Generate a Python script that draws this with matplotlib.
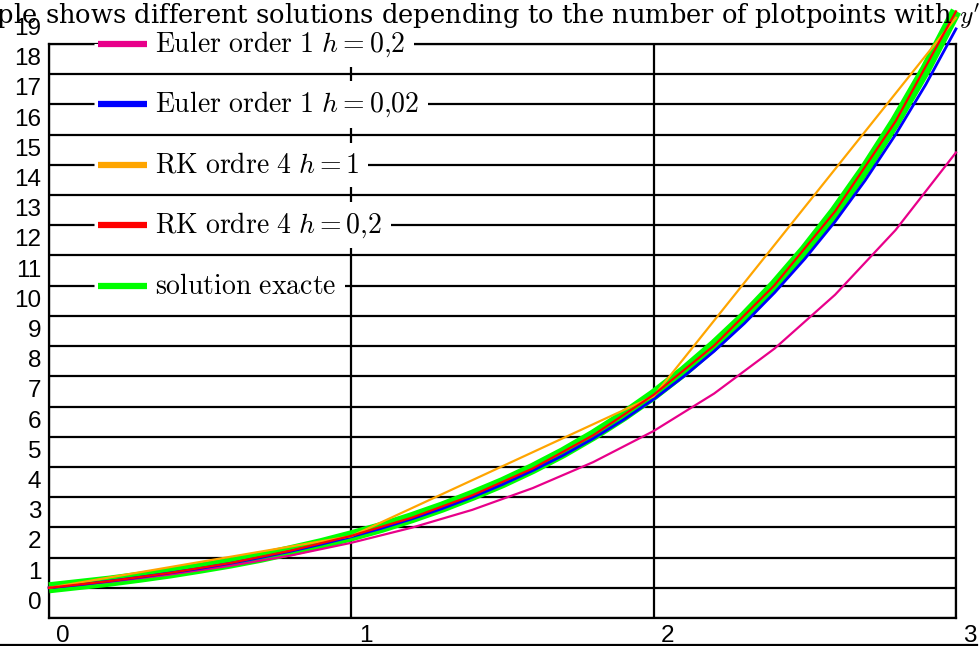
import matplotlib
matplotlib.use("Agg")
import matplotlib.pyplot as plt
from matplotlib.lines import Line2D

plt.rcParams["mathtext.fontset"] = "cm"

# exact solution y = e^x, sampled every 0.1
x_exact = [i / 10 for i in range(31)]
y_exact = [1.00, 1.11, 1.22, 1.35, 1.49, 1.65, 1.82, 2.01, 2.23, 2.46, 2.72,
           3.00, 3.32, 3.67, 4.06, 4.48, 4.95, 5.47, 6.05, 6.69, 7.39,
           8.17, 9.03, 9.97, 11.02, 12.18, 13.46, 14.88, 16.44, 18.17, 20.09]

# Euler, h = 0.2
x_euler_02 = [i / 5 for i in range(16)]
y_euler_02 = [1.00, 1.20, 1.44, 1.73, 2.07, 2.49, 2.99, 3.58, 4.30, 5.16,
              6.19, 7.43, 8.92, 10.70, 12.84, 15.41]

# Euler, h = 0.02 (every 5th step shown)
x_euler_002 = [i / 10 for i in range(31)]
y_euler_002 = [1.00, 1.10, 1.22, 1.35, 1.49, 1.64, 1.81, 2.00, 2.21, 2.44, 2.69,
               2.97, 3.28, 3.62, 4.00, 4.42, 4.88, 5.38, 5.94, 6.56, 7.24,
               8.00, 8.83, 9.75, 10.77, 11.89, 13.12, 14.49, 16.00, 17.66, 19.50]

# Runge-Kutta 4, h = 1
x_rk4_1 = [0, 1, 2, 3]
y_rk4_1 = [1.00, 2.71, 7.34, 19.87]

# Runge-Kutta 4, h = 0.2
x_rk4_02 = [i / 5 for i in range(16)]
y_rk4_02 = [1.00, 1.22, 1.49, 1.82, 2.23, 2.72, 3.32, 4.06, 4.95, 6.05,
            7.39, 9.02, 11.02, 13.46, 16.44, 20.08]

labels = [r"$\mathrm{Euler\ order\ 1}\ h = 0{,}2$",
          r"$\mathrm{Euler\ order\ 1}\ h = 0{,}02$",
          r"$\mathrm{RK\ ordre\ 4}\ h = 1$",
          r"$\mathrm{RK\ ordre\ 4}\ h = 0{,}2$",
          r"$\mathrm{solution\ exacte}$"]
colors = ["#e8008a", "#0000ff", "#ffa500", "#ff0000", "#00ff00"]
legend_y = [19, 17, 15, 13, 11]

fig = plt.figure(figsize=(9.8, 6.46), dpi=100)
ax = fig.add_axes([49 / 980, 28 / 646, 907 / 980, 574 / 646])
ax.set_xlim(0, 3)
ax.set_ylim(0, 19)

ax.set_xticks([0, 1, 2, 3])
ax.set_yticks(range(20))
ax.tick_params(length=0, labelbottom=False, labelleft=False)
ax.grid(True, color="black", lw=1.6, zorder=0)
ax.set_axisbelow(True)
for s in ax.spines.values():
    s.set_linewidth(1.6)

ax.plot(x_exact, y_exact, color=colors[4], lw=8, zorder=3, clip_on=False,
        solid_capstyle="butt")
ax.plot(x_euler_02, y_euler_02, color=colors[0], lw=1.6, zorder=4, clip_on=False)
ax.plot(x_euler_002, y_euler_002, color=colors[1], lw=2, zorder=4, clip_on=False)
ax.plot(x_rk4_1, y_rk4_1, color=colors[2], lw=1.6, zorder=4, clip_on=False)
ax.plot(x_rk4_02, y_rk4_02, color=colors[3], lw=1.6, zorder=5, clip_on=False)

# legend entries sitting on the gridlines, white boxes hide the lines
for lab, col, yy in zip(labels, colors, legend_y):
    ax.text(0.351, yy, lab, fontsize=20, va="center", ha="left", zorder=6,
            bbox=dict(facecolor="white", edgecolor="none", pad=6))
    ax.plot([0.150, 0.345], [yy, yy], color="white", lw=22, zorder=5,
            solid_capstyle="butt")
    ax.plot([0.162, 0.324], [yy, yy], color=col, lw=4.5, zorder=7,
            solid_capstyle="butt", clip_on=False)

# tick labels, offset from their gridlines
for k in range(20):
    ax.text(-0.025, k + 0.5, str(k), fontsize=17.5, family="Liberation Sans",
            ha="right", va="center", clip_on=False)
for k in range(4):
    ax.text(k + 0.047, -0.6, str(k), fontsize=17.5, family="Liberation Sans",
            ha="center", va="center", clip_on=False)

fig.add_artist(Line2D([0, 0.997], [0.002, 0.002], color="black", lw=1.6))

title = "This example shows different solutions depending to the number of plotpoints with $y' = y$"
r = fig.canvas.get_renderer()
pre = fig.text(0, 0, "This exam", family="DejaVu Serif", fontsize=18.5)
w = pre.get_window_extent(r).width
pre.remove()
fig.text((-3 - w) / 980, 1 - 24 / 646, title, family="DejaVu Serif",
         fontsize=18.5, ha="left", va="baseline")

fig.savefig("out.png", dpi=100)
